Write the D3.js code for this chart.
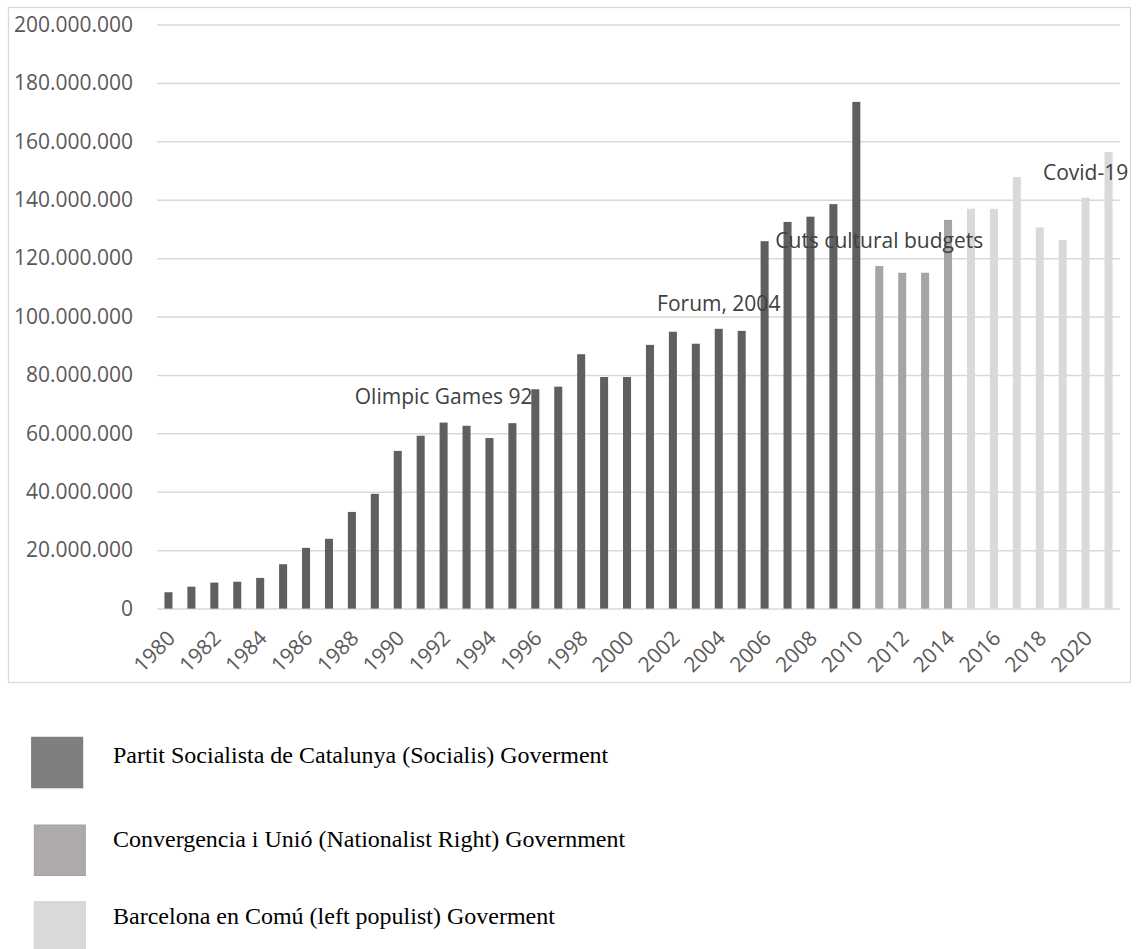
<!DOCTYPE html>
<html>
<head>
<meta charset="utf-8">
<script src="https://cdn.jsdelivr.net/npm/d3@7"></script>
<style>
  html, body { margin: 0; padding: 0; background: #ffffff; }
  svg { display: block; }
</style>
</head>
<body>
<svg id="chart" width="1137" height="949"></svg>
<script>
// Barcelona city council culture budget, 1980-2021 (euros)
const years = [
  1980, 1981, 1982, 1983, 1984, 1985, 1986, 1987, 1988, 1989,
  1990, 1991, 1992, 1993, 1994, 1995, 1996, 1997, 1998, 1999,
  2000, 2001, 2002, 2003, 2004, 2005, 2006, 2007, 2008, 2009,
  2010, 2011, 2012, 2013, 2014, 2015, 2016, 2017, 2018, 2019,
  2020, 2021
];
const budget = [
  5.6e6, 7.5e6, 8.9e6, 9.2e6, 10.5e6, 15.2e6, 20.8e6, 23.9e6, 33.1e6, 39.3e6,
  54.0e6, 59.2e6, 63.7e6, 62.6e6, 58.4e6, 63.5e6, 75.1e6, 76.0e6, 87.1e6, 79.3e6,
  79.3e6, 90.3e6, 94.8e6, 90.7e6, 95.8e6, 95.1e6, 125.8e6, 132.4e6, 134.2e6, 138.5e6,
  173.5e6, 117.3e6, 115.0e6, 115.0e6, 133.1e6, 136.9e6, 136.9e6, 147.8e6, 130.5e6, 126.2e6,
  140.7e6, 156.3e6
];
// governing party for each year
const government = [
  "PSC", "PSC", "PSC", "PSC", "PSC", "PSC", "PSC", "PSC", "PSC", "PSC",
  "PSC", "PSC", "PSC", "PSC", "PSC", "PSC", "PSC", "PSC", "PSC", "PSC",
  "PSC", "PSC", "PSC", "PSC", "PSC", "PSC", "PSC", "PSC", "PSC", "PSC",
  "PSC", "CiU", "CiU", "CiU", "CiU", "BComu", "BComu", "BComu", "BComu", "BComu",
  "BComu", "BComu"
];
const yTicks = [0, 20e6, 40e6, 60e6, 80e6, 100e6, 120e6, 140e6, 160e6, 180e6, 200e6];
const xTickYears = years.filter(y => y % 2 === 0);

// event notes: text, year it sits over, height in euros of its baseline
const noteText = ["Olimpic Games 92", "Forum, 2004", "Cuts cultural budgets", "Covid-19"];
const noteYear = [1992, 2004, 2011, 2020];
const noteLevel = [70.1e6, 101.9e6, 123.5e6, 146.8e6];

const parties = ["PSC", "CiU", "BComu"];
const partyLabels = [
  "Partit Socialista de Catalunya (Socialis) Goverment",
  "Convergencia i Unió (Nationalist Right) Government",
  "Barcelona en Comú (left populist) Goverment"
];

const barColor = d3.scaleOrdinal().domain(parties).range(["#5f5f5f", "#a5a5a5", "#d9d9d9"]);
const swatchColor = d3.scaleOrdinal().domain(parties).range(["#7f7f7f", "#aeaaaa", "#d9d9d9"]);
const swatchStroke = d3.scaleOrdinal().domain(parties).range(["#737373", "#a3a0a0", "#d3d3d3"]);

const svg = d3.select("#chart");
const axisFont = "'Open Sans', sans-serif";

// chart frame
svg.append("rect")
  .attr("x", 8.5).attr("y", 7.5)
  .attr("width", 1122).attr("height", 675)
  .attr("fill", "#ffffff")
  .attr("stroke", "#d9d9d9").attr("stroke-width", 1.3);

const plot = { left: 157, right: 1120, top: 24.5, bottom: 608.6 };

const x = d3.scaleBand()
  .domain(years)
  .range([plot.left, plot.right])
  .paddingInner(0.65)
  .paddingOuter(0.325);

const y = d3.scaleLinear()
  .domain([0, 200e6])
  .range([plot.bottom, plot.top]);

const fmt = d3.formatLocale({ decimal: ",", thousands: ".", grouping: [3], currency: ["", "€"] }).format(",");

// horizontal gridlines + value labels
const yAxis = d3.axisLeft(y)
  .tickValues(yTicks)
  .tickSize(-(plot.right - plot.left))
  .tickPadding(24)
  .tickFormat(fmt);

const gy = svg.append("g")
  .attr("transform", `translate(${plot.left},0)`)
  .call(yAxis);
gy.select(".domain").remove();
gy.selectAll(".tick line").attr("stroke", "#d9d9d9").attr("stroke-width", 1.5);
gy.selectAll(".tick text")
  .attr("fill", "#595959")
  .style("font-family", axisFont)
  .style("font-size", "21px");

// bars
svg.append("g")
  .selectAll("rect")
  .data(years)
  .join("rect")
  .attr("x", (d) => x(d))
  .attr("y", (d, i) => y(budget[i]))
  .attr("width", x.bandwidth())
  .attr("height", (d, i) => y(0) - y(budget[i]))
  .attr("fill", (d, i) => barColor(government[i]));

// year labels, every second year, slanted
const xAxis = d3.axisBottom(x)
  .tickValues(xTickYears)
  .tickSize(0)
  .tickPadding(0);

const gx = svg.append("g")
  .attr("transform", `translate(0,${plot.bottom})`)
  .call(xAxis);
gx.select(".domain").remove();
gx.selectAll(".tick text")
  .attr("fill", "#595959")
  .style("font-family", axisFont)
  .style("font-size", "21px")
  .attr("text-anchor", "end")
  .attr("dy", null)
  .attr("y", null)
  .attr("transform", "translate(8,31) rotate(-45)");

// event notes
svg.append("g")
  .selectAll("text")
  .data(noteText)
  .join("text")
  .attr("x", (d, i) => x(noteYear[i]) + x.bandwidth() / 2)
  .attr("y", (d, i) => y(noteLevel[i]))
  .attr("text-anchor", "middle")
  .attr("fill", "#404040")
  .style("font-family", axisFont)
  .style("font-size", "21px")
  .text(d => d);

// legend
const legendSwatch = [
  { x: 31.7, y: 737.3 },
  { x: 34.3, y: 825 },
  { x: 34.3, y: 901.7 }
];
const legendBaseline = [763.3, 846.7, 924];

const lg = svg.append("g");
lg.selectAll("rect")
  .data(parties)
  .join("rect")
  .attr("x", (d, i) => legendSwatch[i].x)
  .attr("y", (d, i) => legendSwatch[i].y)
  .attr("width", 51)
  .attr("height", 50.5)
  .attr("fill", d => swatchColor(d))
  .attr("stroke", d => swatchStroke(d))
  .attr("stroke-width", 1);

lg.selectAll("text")
  .data(partyLabels)
  .join("text")
  .attr("x", 113)
  .attr("y", (d, i) => legendBaseline[i])
  .attr("fill", "#000000")
  .style("font-family", "'Liberation Serif', 'Times New Roman', serif")
  .style("font-size", "24px")
  .text(d => d);
</script>
</body>
</html>
